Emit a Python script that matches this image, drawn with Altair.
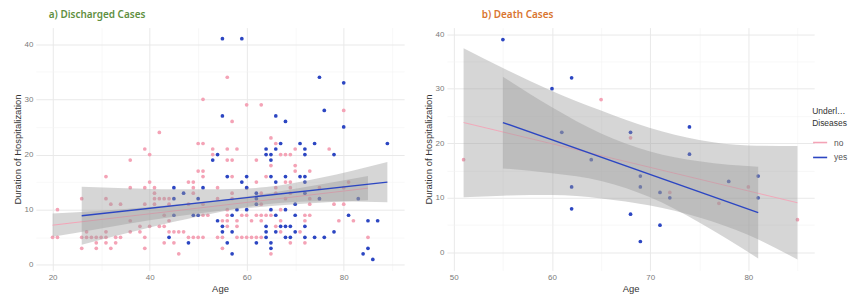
import altair as alt
import pandas as pd

PINK = "#f4a3b6"
BLUE = "#2c46c2"
BAND = "#999999"

# ---------------- a) Discharged cases : (age, duration) ----------------
A_NO = [
    (42, 24), (56, 34), (51, 30), (60, 29), (63, 29), (80, 28), (57, 26), (65, 23),
    (50, 22), (51, 22), (66, 22),
    (39, 21), (53, 21), (56, 21), (58, 21), (70, 21), (77, 21),
    (40, 20), (53, 20), (67, 20), (68, 20), (69, 20),
    (36, 19), (56, 19), (57, 19), (62, 19),
    (65, 18), (70, 18),
    (50, 17), (51, 17), (70, 17), (73, 17),
    (31, 16), (51, 16), (57, 16), (64, 16),
    (40, 15), (48, 15), (49, 15), (62, 15), (68, 15), (69, 15), (81, 15),
    (36, 14), (39, 14), (41, 14), (49, 14), (54, 14), (60, 14), (66, 14), (69, 14), (75, 14), (80, 14),
    (41, 13), (49, 13), (57, 13), (63, 13), (66, 13), (69, 13),
    (26, 12), (31, 12), (41, 12), (42, 12), (43, 12), (44, 12), (54, 12), (57, 12), (68, 12), (73, 12), (75, 12),
    (32, 11), (34, 11), (39, 11), (41, 11), (44, 11), (48, 11), (51, 11), (63, 11), (73, 11), (78, 11), (80, 11),
    (21, 10), (56, 10), (67, 10),
    (43, 9), (51, 9), (52, 9), (56, 9), (59, 9), (60, 9), (62, 9), (63, 9), (64, 9), (65, 9), (72, 9), (73, 9),
    (36, 8), (44, 8), (55, 8), (56, 8), (58, 8), (61, 8), (63, 8), (67, 8), (72, 8), (79, 8), (82, 8),
    (38, 7), (40, 7), (42, 7), (43, 7), (56, 7), (58, 7), (66, 7),
    (27, 6), (31, 6), (36, 6), (38, 6), (44, 6), (45, 6), (46, 6), (47, 6), (67, 6), (71, 6),
    (20, 5), (21, 5), (26, 5), (27, 5), (28, 5), (29, 5), (30, 5), (31, 5), (33, 5), (34, 5), (39, 5),
    (48, 5), (49, 5), (50, 5), (51, 5), (54, 5), (55, 5), (58, 5), (59, 5), (60, 5), (61, 5), (62, 5), (63, 5), (85, 5),
    (29, 4), (31, 4), (33, 4), (43, 4), (45, 4), (69, 4), (72, 4),
    (26, 3), (29, 3), (32, 3), (39, 3), (55, 3),
    (46, 2), (65, 2),
]
A_YES = [
    (55, 41), (59, 41), (75, 34), (80, 33), (76, 28), (55, 27), (66, 27), (68, 26), (80, 25),
    (67, 22), (71, 22), (74, 22), (89, 22),
    (64, 21), (66, 21), (72, 21),
    (54, 20), (64, 20), (65, 20), (72, 20), (78, 20),
    (53, 19), (65, 19),
    (56, 16), (60, 16), (65, 16), (68, 16), (71, 16), (72, 16),
    (59, 15), (66, 15), (72, 15),
    (45, 14), (51, 14), (60, 14),
    (47, 13), (62, 13), (72, 13),
    (45, 12), (50, 12), (62, 12), (75, 12), (83, 12),
    (62, 11), (70, 11),
    (58, 10), (60, 10), (65, 10), (68, 10),
    (45, 9), (49, 9), (50, 9), (57, 9), (66, 9), (70, 9), (81, 9),
    (54, 8), (85, 8), (87, 8),
    (55, 7), (64, 7), (67, 7), (68, 7), (69, 7), (72, 7),
    (55, 6), (57, 6), (64, 6), (66, 6), (70, 6), (78, 6),
    (44, 5), (64, 5), (68, 5), (69, 5), (72, 5), (74, 5), (76, 5),
    (48, 4), (56, 4), (62, 4), (65, 4),
    (65, 3), (85, 3),
    (57, 2), (84, 2),
    (86, 1),
]

# ---------------- b) Death cases ----------------
B_NO = [(51, 17), (65, 28), (68, 21), (72, 11), (77, 9), (80, 12), (85, 6)]
B_YES = [
    (55, 39), (60, 30), (61, 22), (62, 32), (62, 12), (62, 8), (64, 17), (68, 22), (68, 7),
    (69, 14), (69, 12), (69, 2), (71, 11), (71, 5), (72, 10), (74, 23), (74, 18), (78, 13),
    (81, 14), (81, 10),
]

# fitted lines
A_NO_LINE_AGE, A_NO_LINE_DUR = [20, 85], [7.2, 13.9]
A_YES_LINE_AGE, A_YES_LINE_DUR = [26, 89], [8.9, 15.0]
B_NO_LINE_AGE, B_NO_LINE_DUR = [51, 85], [23.8, 9.1]
B_YES_LINE_AGE, B_YES_LINE_DUR = [55, 81], [23.8, 7.3]

# confidence bands
A_NO_BAND_AGE = [20, 30, 40, 50, 60, 70, 85]
A_NO_BAND_LO = [5.1, 6.6, 8.1, 9.3, 10.3, 11.0, 11.7]
A_NO_BAND_HI = [9.3, 9.8, 10.5, 11.3, 12.4, 13.8, 16.1]
A_YES_BAND_AGE = [26, 35, 45, 55, 64, 75, 89]
A_YES_BAND_LO = [3.65, 5.7, 7.8, 9.7, 11.0, 11.55, 11.35]
A_YES_BAND_HI = [14.15, 13.9, 13.7, 13.7, 14.1, 15.75, 18.65]
B_NO_BAND_AGE = [51, 55, 60, 65, 70, 75, 80, 85]
B_NO_BAND_LO = [10.1, 10.4, 10.5, 9.9, 8.6, 6.4, 3.2, -1.3]
B_NO_BAND_HI = [37.4, 33.8, 29.6, 26.0, 22.8, 20.6, 19.6, 19.5]
B_YES_BAND_AGE = [55, 60, 65, 70, 75, 81]
B_YES_BAND_LO = [15.4, 14.5, 13.1, 10.1, 5.5, -1.1]
B_YES_BAND_HI = [32.2, 26.6, 21.8, 18.5, 16.7, 15.7]


def pts_df(no, yes):
    rows = [{"age": a, "dur": d, "grp": "no"} for a, d in no]
    rows += [{"age": a, "dur": d, "grp": "yes"} for a, d in yes]
    return pd.DataFrame(rows)


def line_df(ages, durs, grp):
    return pd.DataFrame({"age": ages, "dur": durs, "grp": grp})


def band_df(ages, lo, hi):
    return pd.DataFrame({"age": ages, "lo": lo, "hi": hi})


color = alt.Color(
    "grp:N",
    scale=alt.Scale(domain=["no", "yes"], range=[PINK, BLUE]),
    legend=alt.Legend(
        title=["Underlying", "Diseases"],
        orient="none", legendX=780, legendY=80,
        symbolType="stroke", symbolStrokeWidth=1.6, symbolSize=200,
        titleFontSize=8.5, titleFontWeight="normal", titleColor="#333333",
        titleFont="Liberation Sans", labelFont="Liberation Sans", titleLimit=37,
        titleLineHeight=12,
        labelFontSize=8.5, labelColor="#555555", rowPadding=2, labelOffset=6,
        titlePadding=7, padding=0,
    ),
)


def panel(pts, bands, lines, line_widths, xdom, ydom, xvals, xmajor, title, tcolor, tdx, w, h):
    xax = alt.Axis(
        values=xvals, title="Age",
        labelExpr=f"datum.value % {xmajor} === 0 ? datum.label : ''",
        gridColor={"condition": {"test": f"datum.value % {xmajor} === 0", "value": "#e9e9e9"}, "value": "#f4f4f4"},
        gridWidth={"condition": {"test": f"datum.value % {xmajor} === 0", "value": 1}, "value": 0.6},
    )
    yax = alt.Axis(
        values=list(range(0, 45, 5)), title="Duration of Hospitalization",
        labelExpr="datum.value % 10 === 0 ? datum.label : ''",
        gridColor={"condition": {"test": "datum.value % 10 === 0", "value": "#e9e9e9"}, "value": "#f4f4f4"},
        gridWidth={"condition": {"test": "datum.value % 10 === 0", "value": 1}, "value": 0.6},
    )
    xs = alt.Scale(domain=xdom, nice=False, zero=False)
    ys = alt.Scale(domain=ydom, nice=False, zero=False)
    X = alt.X("age:Q", scale=xs, axis=xax)
    Y = alt.Y("dur:Q", scale=ys, axis=yax)

    layers = [alt.Chart(pts).mark_circle(size=14, opacity=1).encode(x=X, y=Y, color=color)]
    for b, l, lw in zip(bands, lines, line_widths):
        layers.append(
            alt.Chart(b).mark_area(color=BAND, opacity=0.4, interpolate="monotone").encode(
                x=X, y=alt.Y("lo:Q", scale=ys, axis=yax), y2="hi:Q"
            )
        )
        layers.append(
            alt.Chart(l).mark_line(strokeWidth=lw).encode(x=X, y=Y, color=color)
        )
    return alt.layer(*layers).properties(
        width=w, height=h,
        title=alt.TitleParams(
            text=title, anchor="start", frame="group", dx=tdx, offset=8,
            font="Noto Sans", fontSize=10, fontWeight=600, color=tcolor,
        ),
    )


left = panel(
    pts_df(A_NO, A_YES),
    [band_df(A_NO_BAND_AGE, A_NO_BAND_LO, A_NO_BAND_HI), band_df(A_YES_BAND_AGE, A_YES_BAND_LO, A_YES_BAND_HI)],
    [line_df(A_NO_LINE_AGE, A_NO_LINE_DUR, "no"), line_df(A_YES_LINE_AGE, A_YES_LINE_DUR, "yes")],
    [1.0, 1.4],
    [16.55, 92.45], [-1, 43], list(range(20, 95, 10)), 20,
    "a) Discharged Cases", "#5f8f3f", 13, 370, 244,
)
right = panel(
    pts_df(B_NO, B_YES),
    [band_df(B_NO_BAND_AGE, B_NO_BAND_LO, B_NO_BAND_HI), band_df(B_YES_BAND_AGE, B_YES_BAND_LO, B_YES_BAND_HI)],
    [line_df(B_NO_LINE_AGE, B_NO_LINE_DUR, "no"), line_df(B_YES_LINE_AGE, B_YES_LINE_DUR, "yes")],
    [0.9, 1.4],
    [49.3, 86.7], [-3.3, 41.2], list(range(50, 90, 5)), 10,
    "b) Death Cases", "#d9752f", 35, 369, 244,
)

chart = alt.hconcat(left, right, spacing=19).resolve_scale(color="shared").properties(
    padding={"left": 4, "top": 1, "right": 0, "bottom": 0}
).configure_view(stroke=None).configure_axis(
    ticks=False, domain=False,
    labelFont="Liberation Sans", labelFontSize=8, labelColor="#7a7a7a", labelPadding=3,
    titleFont="Liberation Sans", titleFontSize=9.5, titleFontWeight="normal", titleColor="#333333",
    titlePadding=2,
)

chart.save("out.html", embed_options={"renderer": "svg", "actions": False})
